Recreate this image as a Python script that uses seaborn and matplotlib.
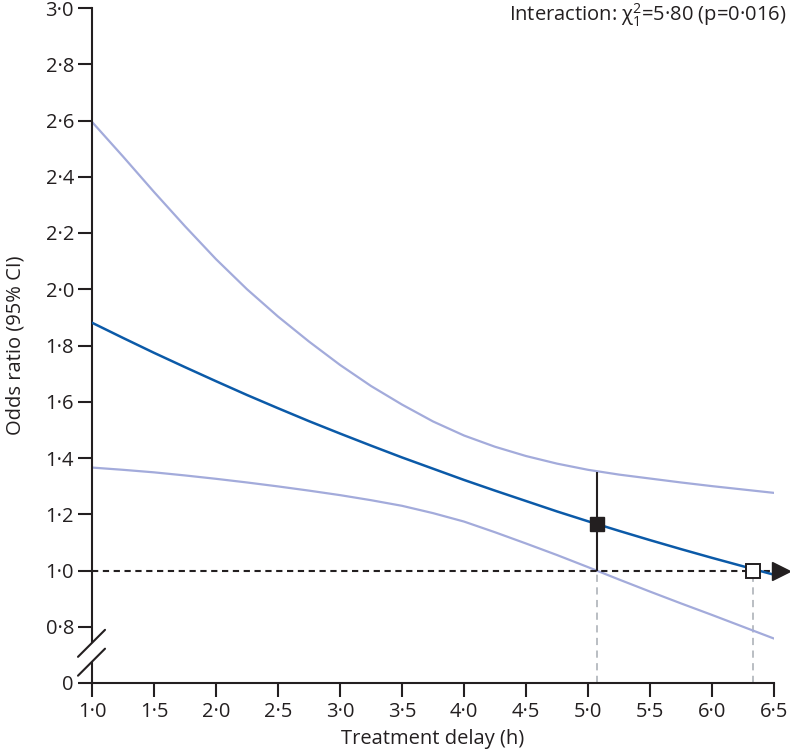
import matplotlib
matplotlib.use("Agg")
import matplotlib.pyplot as plt
import seaborn as sns
import pandas as pd
import numpy as np

# treatment delay (h) and odds ratio curves
delay = [1.0, 1.25, 1.5, 1.75, 2.0, 2.25, 2.5, 2.75, 3.0, 3.25, 3.5, 3.75,
         4.0, 4.25, 4.5, 4.75, 5.0, 5.25, 5.5, 5.75, 6.0, 6.25, 6.5]
or_mid = [1.881, 1.827, 1.774, 1.723, 1.673, 1.624, 1.577, 1.531, 1.487, 1.444,
          1.402, 1.362, 1.322, 1.284, 1.247, 1.210, 1.175, 1.141, 1.108, 1.076,
          1.045, 1.015, 0.985]
or_upper = [2.595, 2.472, 2.346, 2.224, 2.107, 2.000, 1.903, 1.814, 1.731, 1.656,
            1.590, 1.530, 1.480, 1.440, 1.407, 1.380, 1.358, 1.341, 1.327, 1.313,
            1.300, 1.288, 1.276]
or_lower = [1.366, 1.358, 1.349, 1.338, 1.326, 1.313, 1.299, 1.284, 1.268, 1.250,
            1.230, 1.204, 1.174, 1.136, 1.096, 1.055, 1.012, 0.968, 0.925, 0.883,
            0.842, 0.800, 0.758]

# highlighted points
point_x = [5.07]
point_or = [1.165]
point_lo = [1.0]
point_hi = [1.352]
null_x = [6.33]
null_or = [1.0]

xticks = [1.0, 1.5, 2.0, 2.5, 3.0, 3.5, 4.0, 4.5, 5.0, 5.5, 6.0, 6.5]
yticks = [0.8, 1.0, 1.2, 1.4, 1.6, 1.8, 2.0, 2.2, 2.4, 2.6, 2.8, 3.0]
y_zero_pos = 0.6  # where "0" sits below the axis break

sns.set_style("ticks")
plt.rcParams["font.family"] = ["Open Sans", "DejaVu Sans"]
plt.rcParams["mathtext.fontset"] = "custom"
plt.rcParams["mathtext.rm"] = "Open Sans"
plt.rcParams["mathtext.it"] = "Open Sans"

dark = "#231f20"
blue = "#0b5aa8"
light = "#a3abdb"
grey = "#b4b9be"
fs = 14.5

fig = plt.figure(figsize=(7.9, 7.54), dpi=100)
ax = fig.add_axes([92 / 790, 1 - 683 / 754, (774 - 92) / 790, (683 - 8) / 754])

df = pd.DataFrame({"delay": delay, "mid": or_mid, "upper": or_upper, "lower": or_lower})
sns.lineplot(data=df, x="delay", y="upper", color=light, lw=1.6, estimator=None, ax=ax, zorder=2)
sns.lineplot(data=df, x="delay", y="lower", color=light, lw=1.6, estimator=None, ax=ax, zorder=2)
sns.lineplot(data=df, x="delay", y="mid", color=blue, lw=1.8, estimator=None, ax=ax, zorder=3)

# grey drop lines
ax.vlines(point_x + null_x, y_zero_pos, point_lo + null_or, colors=grey, lw=1.3,
          linestyles=(0, (4, 3)), zorder=1)

# reference line at OR = 1 with arrow
ax.plot([xticks[0], 6.52], [1.0, 1.0], color=dark, lw=1.5, ls=(0, (3, 2.2)),
        clip_on=False, zorder=2)
ax.plot([6.556], [1.0], marker=">", ms=12.5, color=dark, clip_on=False, zorder=6)

# CI bar and squares
ax.vlines(point_x, point_lo, point_hi, colors=dark, lw=1.5, zorder=4)
ax.plot(point_x, point_or, "s", ms=10.5, color=dark, zorder=5)
ax.plot(null_x, null_or, "s", ms=10.5, mfc="white", mec=dark, mew=1.4, zorder=5)

ax.set_xlim(1.0, 6.5)
ax.set_ylim(y_zero_pos, 3.0)
ax.set_xticks(xticks)
ax.set_xticklabels([f"{v:.1f}".replace(".", "\u00b7") for v in xticks])
ax.set_yticks([y_zero_pos] + yticks)
ax.set_yticklabels(["0"] + [f"{v:.1f}".replace(".", "\u00b7") for v in yticks])
ax.tick_params(axis="both", length=10, width=1.5, color=dark, labelsize=fs, labelcolor=dark)
ax.tick_params(axis="x", pad=4)
ax.tick_params(axis="y", pad=3)
ax.set_xlabel("Treatment delay (h)", fontsize=fs, color=dark, labelpad=5)
ax.set_ylabel("Odds ratio (95% CI)", fontsize=fs, color=dark, labelpad=14)

sns.despine(ax=ax)
ax.spines["bottom"].set_linewidth(1.5)
ax.spines["bottom"].set_color(dark)
ax.spines["left"].set_linewidth(1.5)
ax.spines["left"].set_color(dark)
ax.spines["left"].set_bounds(0.745, 3.0)

# lower piece of y axis and break marks
ax.plot([1.0, 1.0], [y_zero_pos, 0.675], color=dark, lw=1.5, clip_on=False, zorder=6,
        solid_capstyle="butt")
for y0 in (0.693, 0.626):
    ax.plot([0.887, 1.105], [y0, y0 + 0.096], color=dark, lw=1.5, clip_on=False, zorder=6)

fig.text(786 / 790, 1 - 2 / 754, "Interaction: \u03c7$^{2}_{1}$=5\u00b780 (p=0\u00b7016)",
         ha="right", va="top", fontsize=fs, color=dark)

fig.savefig("out.png", dpi=100)
